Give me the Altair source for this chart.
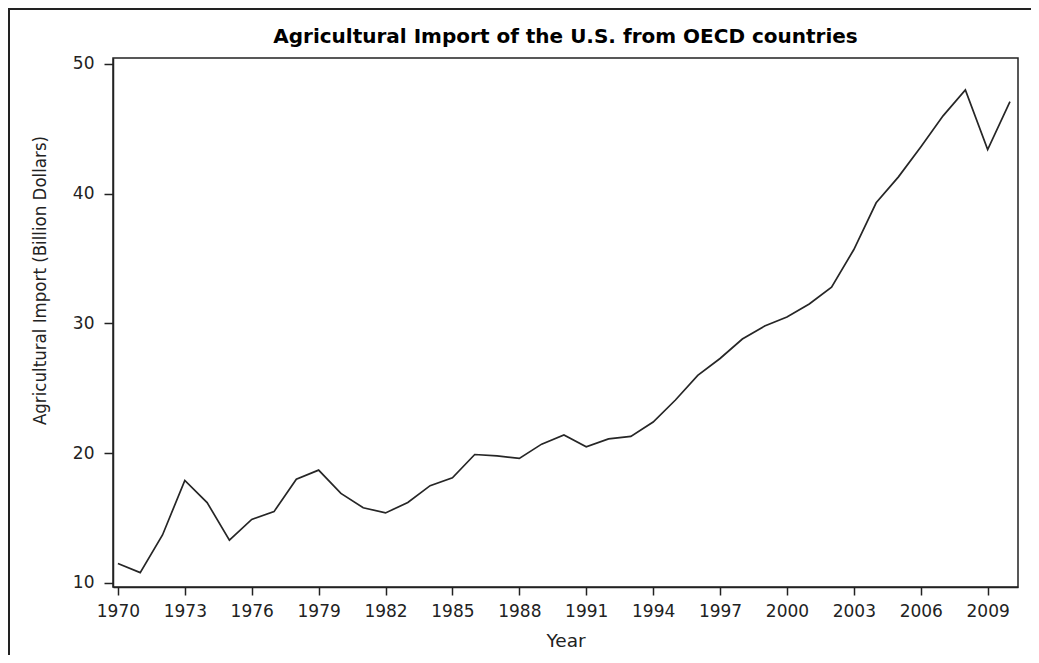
import altair as alt
import pandas as pd

years = list(range(1970, 2011))
imports = [11.5, 10.8, 13.7, 17.9, 16.2, 13.3, 14.9, 15.5, 18.0, 18.7,
           16.9, 15.8, 15.4, 16.2, 17.5, 18.1, 19.9, 19.8, 19.6, 20.7,
           21.4, 20.5, 21.1, 21.3, 22.4, 24.1, 26.0, 27.3, 28.8, 29.8,
           30.5, 31.5, 32.8, 35.7, 39.3, 41.3, 43.6, 46.0, 48.0, 43.4,
           47.1]
x_ticks = list(range(1970, 2010, 3))
y_ticks = [10, 20, 30, 40, 50]
title_text = ["Agricultural Import of the U.S. from OECD countries"]

df = pd.DataFrame({"Year": years, "Import": imports})

W, H = 905, 529
LABEL_FONT = "DejaVu Sans, Verdana, sans-serif"

line = alt.Chart(df).mark_line(color="#262626", strokeWidth=1.7).encode(
    x=alt.X("Year:Q",
            scale=alt.Scale(domain=[1969.78, 2010.36], nice=False, zero=False),
            axis=alt.Axis(values=x_ticks, format="d", title="Year",
                          labelFont=LABEL_FONT, labelFontSize=17, labelColor="#222222",
                          labelPadding=8, tickSize=8,
                          titleFont=LABEL_FONT, titleFontSize=18.5, titleFontWeight="normal",
                          titleColor="#222222", titleX=W / 2, titleY=53,
                          titleBaseline="middle", titleAlign="center")),
    y=alt.Y("Import:Q",
            scale=alt.Scale(domain=[9.69, 50.46], nice=False, zero=False),
            axis=alt.Axis(values=y_ticks, title="Agricultural Import (Billion Dollars)",
                          labelFont=LABEL_FONT, labelFontSize=17, labelColor="#222222",
                          labelPadding=10, tickSize=9,
                          titleFont="DejaVu Sans Condensed, Liberation Sans, sans-serif",
                          titleFontSize=18.5,
                          titleFontWeight="normal", titleColor="#222222",
                          titleX=-74, titleY=222, titleAngle=270,
                          titleBaseline="middle", titleAlign="center")),
)

frame = alt.Chart(pd.DataFrame({"k": [0]})).mark_rect(
    filled=False, stroke="#222222", strokeWidth=2
).encode(x=alt.value(-104), x2=alt.value(1200), y=alt.value(-49), y2=alt.value(900))

title = alt.Chart(pd.DataFrame({"t": title_text})).mark_text(
    font="DejaVu Sans, Verdana, sans-serif", fontSize=20, fontWeight="bold",
    color="#000000", align="center", baseline="alphabetic"
).encode(text="t:N", x=alt.value(W / 2), y=alt.value(-15))

chart = alt.layer(frame, line, title).properties(
    width=W, height=H,
    autosize="none",
    padding={"left": 105, "top": 50, "right": 13, "bottom": 68},
    background="white",
).configure_view(stroke="#222222", strokeWidth=1.5).configure_axis(
    grid=False, domainColor="#222222", domainWidth=1.5,
    tickColor="#222222", tickWidth=1.5,
)

chart.save("out.html", embed_options={"renderer": "svg", "actions": False})
